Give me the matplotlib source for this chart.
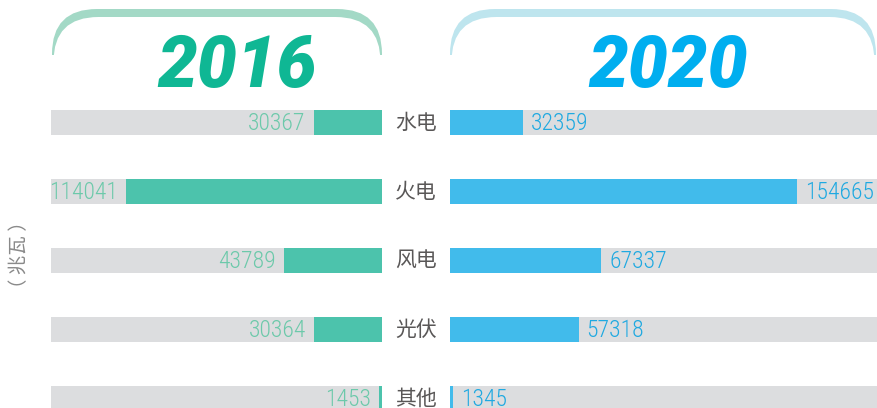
import numpy as np
import matplotlib
matplotlib.use('Agg')
import matplotlib.pyplot as plt
from matplotlib.patches import FancyBboxPatch

plt.rcParams['font.family'] = ['Noto Sans CJK SC', 'DejaVu Sans']

# 装机容量（兆瓦）
categories = ['水电', '火电', '风电', '光伏', '其他']
values_2016 = [30367, 114041, 43789, 30364, 1453]
values_2020 = [32359, 154665, 67337, 57318, 1345]
years = ['2016', '2020']

W, H = 877, 408
PX_PER_UNIT = 0.002244  # 条形长度比例（像素/兆瓦）
NUM_FONT = ['Liberation Sans Narrow', 'Roboto Condensed', 'Roboto', 'DejaVu Sans']

fig = plt.figure(figsize=(W / 100, H / 100), dpi=100)

# 行位置：第一行中心 y=122.5px，行距 69px
row0, step = 122.5, 69.0
ylim = ((H - row0) / step, -row0 / step)
bar_h = 25 / step


def px_axes(x0, x1):
    return fig.add_axes([x0 / W, 0, (x1 - x0) / W, 1])


y = np.arange(len(categories))

# 左侧 2016
axl = px_axes(51, 382)
left_max = (382 - 51) / PX_PER_UNIT
axl.set_xlim(left_max, 0)
axl.set_ylim(*ylim)
axl.barh(y, [left_max] * len(y), height=bar_h, color='#dcdddf')
axl.barh(y, values_2016, height=bar_h, color='#4cc3ac')
for i, v in enumerate(values_2016):
    axl.text(v + 8 / PX_PER_UNIT, i + 0.02, str(v), ha='right', va='center',
             color='#6cc9aa', fontsize=17, family=NUM_FONT, fontweight='light')
axl.axis('off')

# 右侧 2020
axr = px_axes(450, 877)
right_max = (877 - 450) / PX_PER_UNIT
axr.set_xlim(0, right_max)
axr.set_ylim(*ylim)
axr.barh(y, [right_max] * len(y), height=bar_h, color='#dcdddf')
axr.barh(y, values_2020, height=bar_h, color='#41bbeb')
for i, v in enumerate(values_2020):
    axr.text(v + 8 / PX_PER_UNIT, i + 0.02, str(v), ha='left', va='center',
             color='#1fa9e1', fontsize=17, family=NUM_FONT, fontweight='light')
axr.axis('off')

# 中间类别标签
for i, c in enumerate(categories):
    fig.text(416 / W, 1 - (row0 + step * i) / H, c, ha='center', va='center',
             fontsize=15, color='#595757', fontweight='light')

# 纵轴单位
fig.text(20 / W, 1 - 255 / H, '（ 兆瓦 ）', rotation=90, ha='center', va='center',
         fontsize=14, color='#8a8a8a', fontweight='light')

# 顶部圆角标签
bg = fig.add_axes([0, 0, 1, 1])
bg.set_xlim(0, W)
bg.set_ylim(H, 0)
bg.axis('off')
bg.set_zorder(-1)
tabs = [(52, 382, '#a3d9c6', '#0fb794', 237), (450, 876, '#bee5ee', '#00aeef', 668)]
for (x0, x1, edge, tc, tx), yr in zip(tabs, years):
    bg.add_patch(FancyBboxPatch((x0, 9), x1 - x0, 120,
                                boxstyle='round,pad=0,rounding_size=45',
                                fc=edge, ec='none'))
    bg.add_patch(FancyBboxPatch((x0 + 1.5, 17), x1 - x0 - 3, 120,
                                boxstyle='round,pad=0,rounding_size=45',
                                fc='white', ec='none'))
    bg.add_patch(plt.Rectangle((x0 - 2, 55), x1 - x0 + 4, 60, fc='white', ec='none'))
    bg.text(tx, 67, yr, ha='center', va='center', fontsize=51, fontweight='black',
            fontstyle='italic', color=tc, family=['Roboto', 'DejaVu Sans'])

fig.savefig('out.png', dpi=100)
